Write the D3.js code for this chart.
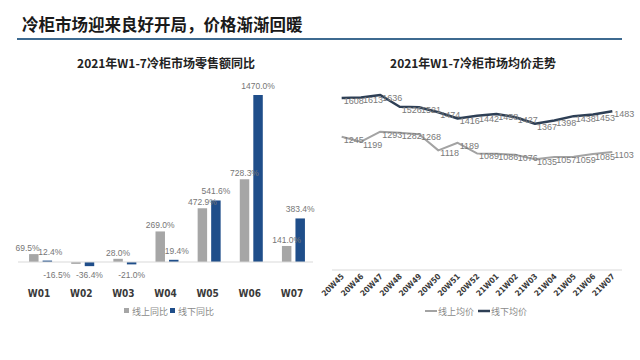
<!DOCTYPE html>
<html><head><meta charset="utf-8">
<script src="https://cdn.jsdelivr.net/npm/d3@7"></script>
<style>
body{margin:0;background:#fff;}
svg{display:block;font-family:"Noto Sans CJK SC","Noto Sans",sans-serif;}
</style></head>
<body><svg id="c" width="640" height="360"></svg>
<script>
// ---- data ----
const mainTitle = "冷柜市场迎来良好开局，价格渐渐回暖";
const barTitle = "2021年W1-7冷柜市场零售额同比";
const weeks = ["W01","W02","W03","W04","W05","W06","W07"];
const onlineYoY = [69.5, -16.5, 28.0, 269.0, 472.9, 728.3, 141.0];
const offlineYoY = [12.4, -36.4, -21.0, 19.4, 541.6, 1470.0, 383.4];
const barSeriesNames = ["线上同比","线下同比"];

const lineTitle = "2021年W1-7冷柜市场均价走势";
const periods = ["20W45","20W46","20W47","20W48","20W49","20W50","20W51","20W52",
                 "21W01","21W02","21W03","21W04","21W05","21W06","21W07"];
const onlinePrice = [1245,1199,1293,1282,1268,1118,1189,1089,1086,1076,1035,1057,1059,1085,1103];
const offlinePrice = [1608,1613,1636,1526,1521,1474,1416,1442,1458,1427,1367,1398,1438,1453,1483];
const lineSeriesNames = ["线上均价","线下均价"];

// ---- drawing ----
const svg = d3.select("#c");
const grey = "#a6a6a6", blue = "#1f4e8a", lgrey = "#a3a3a3", navy = "#2e3f55";

svg.append("text").attr("x",22).attr("y",31).attr("font-size",16.5).attr("font-weight","bold")
  .attr("fill","#1a1a1a").text(mainTitle);
svg.append("line").attr("x1",17).attr("x2",622).attr("y1",39).attr("y2",39)
  .attr("stroke","#3d6a90").attr("stroke-width",2);

// Left bar chart
svg.append("text").attr("x",166).attr("y",68).attr("text-anchor","middle")
  .attr("font-size",12).attr("font-weight","bold").attr("fill","#222").text(barTitle);

const xb = d3.scaleBand().domain(weeks).range([18,313]);
const yb = d3.scaleLinear().domain([0,1470]).range([262,95]);
const inner = d3.scaleBand().domain([0,1]).range([-10,13]).paddingInner(0.3);
const barData = weeks.map((w,i)=>[{w,s:0,v:onlineYoY[i],o:offlineYoY[i]},{w,s:1,v:offlineYoY[i],o:onlineYoY[i]}]).flat();
const bx = d=>xb(d.w)+xb.bandwidth()/2+inner(d.s);
const bw = inner.bandwidth();
// grey label pushed left when it would collide with its neighbour's label
const pushLeft = d=>d.s===0 && ((d.v<0) || (d.o>=0 && Math.abs(yb(d.v)-yb(d.o))<7));

const gb = svg.append("g");
gb.selectAll("rect").data(barData).join("rect")
  .attr("x",bx)
  .attr("width",bw)
  .attr("y",d=>yb(Math.max(0,d.v)))
  .attr("height",d=>Math.abs(yb(d.v)-yb(0)))
  .attr("fill",d=>d.s===0?grey:blue);
gb.append("line").attr("x1",18).attr("x2",313).attr("y1",yb(0)).attr("y2",yb(0))
  .attr("stroke","#d9d9d9").attr("stroke-width",1);
gb.selectAll("text.lbl").data(barData).join("text").attr("class","lbl")
  .attr("x",d=>{
    if(pushLeft(d)) return d.v<0 ? bx(d)-1 : bx(d)+bw+1;
    return bx(d)+bw/2+(d.s===1&&d.v>=0&&d.v<100?3:0);
  })
  .attr("y",d=>d.v>=0?yb(d.v)-(d.s===1?6:3):yb(0)+16)
  .attr("text-anchor",d=>pushLeft(d)?"end":"middle")
  .attr("font-size",8.5).attr("fill","#767676")
  .attr("font-family","Liberation Sans, Arial, sans-serif")
  .text(d=>d.v.toFixed(1)+"%");
const axb = svg.append("g").attr("transform","translate(0,262)")
  .call(d3.axisBottom(xb).tickSize(0).tickPadding(28));
axb.select(".domain").remove();
axb.selectAll("text").attr("font-size",10).attr("font-weight","bold").attr("fill","#3a3a3a")
  .attr("font-family","DejaVu Sans Condensed, DejaVu Sans, sans-serif");

// left legend
const lg = svg.append("g").attr("transform","translate(124,311)");
barSeriesNames.forEach((n,i)=>{
  const ox = i*46;
  lg.append("rect").attr("x",ox).attr("y",-3).attr("width",5).attr("height",5).attr("fill",i?blue:grey);
  lg.append("text").attr("x",ox+8).attr("y",3.5).attr("font-size",9).attr("fill","#8a8a8a").text(n);
});

// Right line chart
svg.append("text").attr("x",473).attr("y",68).attr("text-anchor","middle")
  .attr("font-size",12).attr("font-weight","bold").attr("fill","#222").text(lineTitle);

const xl = d3.scaleBand().domain(periods).range([332,622]);
const yl = d3.scaleLinear().domain([0,1800]).range([270,77.4]);
const cx = p=>xl(p)+xl.bandwidth()/2;
const line = d3.line().x(d=>cx(d.p)).y(d=>yl(d.v));

const series = [
  {name:lineSeriesNames[0], vals:onlinePrice, color:lgrey, w:2},
  {name:lineSeriesNames[1], vals:offlinePrice, color:navy, w:2.5}
];
const gl = svg.append("g");
gl.append("line").attr("x1",332).attr("x2",622).attr("y1",270).attr("y2",270)
  .attr("stroke","#d9d9d9").attr("stroke-width",1);
series.forEach(s=>{
  const pts = periods.map((p,i)=>({p,v:s.vals[i]}));
  gl.append("path").datum(pts).attr("d",line).attr("fill","none")
    .attr("stroke",s.color).attr("stroke-width",s.w).attr("stroke-linejoin","round");
  gl.selectAll(null).data(pts).join("text")
    .attr("x",d=>cx(d.p)+2).attr("y",d=>yl(d.v)+6)
    .attr("font-size",9).attr("fill","#7a7a7a")
    .attr("font-family","Liberation Sans, Arial, sans-serif")
    .text(d=>d.v);
});
const axl = svg.append("g").attr("transform","translate(0,270)")
  .call(d3.axisBottom(xl).tickSize(0).tickPadding(0));
axl.select(".domain").remove();
axl.selectAll("text").attr("font-size",8).attr("font-weight","bold").attr("fill","#3a3a3a")
  .attr("font-family","DejaVu Sans Condensed, DejaVu Sans, sans-serif")
  .attr("text-anchor","end").attr("dy",0)
  .attr("transform","translate(3,7) rotate(-45)");

// right legend
const rg = svg.append("g").attr("transform","translate(425,311)");
series.forEach((s,i)=>{
  const ox = i*53;
  rg.append("line").attr("x1",ox).attr("x2",ox+12).attr("y1",0).attr("y2",0)
    .attr("stroke",s.color).attr("stroke-width",s.w);
  rg.append("text").attr("x",ox+13).attr("y",3.5).attr("font-size",9).attr("fill","#8a8a8a").text(s.name);
});
</script></body></html>
